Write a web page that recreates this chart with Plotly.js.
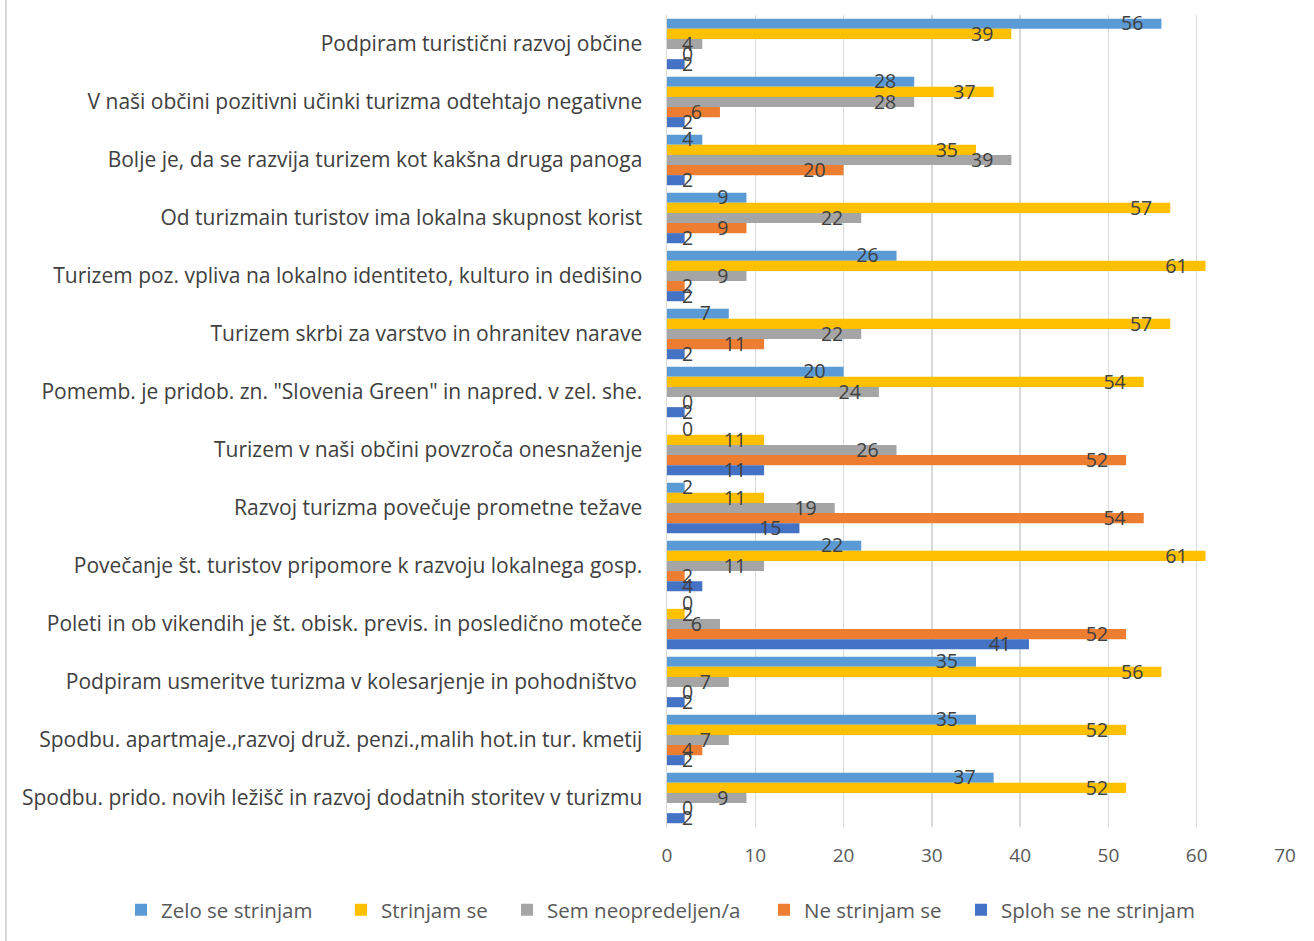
<!DOCTYPE html>
<html>
<head>
<meta charset="utf-8">
<script src="https://cdn.plot.ly/plotly-3.0.1.min.js"></script>
<style>html,body{margin:0;padding:0;background:#fff;}#chart{width:1314px;height:941px;}</style>
</head>
<body>
<div id="chart"></div>
<script>
const categories = [
  "Podpiram turistični razvoj občine",
  "V naši občini pozitivni učinki turizma odtehtajo negativne",
  "Bolje je, da se razvija turizem kot kakšna druga panoga",
  "Od turizmain turistov ima lokalna skupnost korist",
  "Turizem poz. vpliva na lokalno identiteto, kulturo in dedišino",
  "Turizem skrbi za varstvo in ohranitev narave",
  "Pomemb. je pridob. zn. \"Slovenia Green\" in napred. v zel. she.",
  "Turizem v naši občini povzroča onesnaženje",
  "Razvoj turizma povečuje prometne težave",
  "Povečanje št. turistov pripomore k razvoju lokalnega gosp.",
  "Poleti in ob vikendih je št. obisk. previs. in posledično moteče",
  "Podpiram usmeritve turizma v kolesarjenje in pohodništvo ",
  "Spodbu. apartmaje.,razvoj druž. penzi.,malih hot.in tur. kmetij",
  "Spodbu. prido. novih ležišč in razvoj dodatnih storitev v turizmu"
];
const seriesNames = ["Zelo se strinjam", "Strinjam se", "Sem neopredeljen/a", "Ne strinjam se", "Sploh se ne strinjam"];
const zeloSeStrinjam   = [56, 28, 4, 9, 26, 7, 20, 0, 2, 22, 0, 35, 35, 37];
const strinjamSe       = [39, 37, 35, 57, 61, 57, 54, 11, 11, 61, 2, 56, 52, 52];
const semNeopredeljen  = [4, 28, 39, 22, 9, 22, 24, 26, 19, 11, 6, 7, 7, 9];
const neStrinjamSe     = [0, 6, 20, 9, 2, 11, 0, 52, 54, 2, 52, 0, 4, 0];
const splohSeNeStrinjam= [2, 2, 2, 2, 2, 2, 2, 11, 15, 4, 41, 2, 2, 2];
const xTicks = [0, 10, 20, 30, 40, 50, 60, 70];

const colors = ["#5B9BD5", "#FFC000", "#A5A5A5", "#ED7D31", "#4472C4"];
const seriesValues = [zeloSeStrinjam, strinjamSe, semNeopredeljen, neStrinjamSe, splohSeNeStrinjam];
const FONT = "'Open Sans', sans-serif";

const BARGAP = 0.13;
const nSeries = seriesValues.length;
const barW = (1 - BARGAP) / nSeries;
const legendNames = ["legend", "legend2", "legend3", "legend4", "legend5"];

// bar traces (categorical y), each with its own one-item legend
const barTraces = seriesValues.map((vals, i) => ({
  type: "bar",
  orientation: "h",
  name: seriesNames[i],
  legend: legendNames[i],
  y: categories,
  x: vals,
  marker: {color: colors[i]},
  hoverinfo: "x+name"
}));

// data labels drawn on top via an overlaid numeric axis, Excel "inside end" style
const unitPx = 618 / 70;
const labelTraces = seriesValues.map((vals, i) => {
  const xs = vals.map(v => {
    const nd = String(v).length;
    const halfW = nd * 0.63;
    const c = v - 18 / unitPx - halfW;
    const minC = 15 / unitPx + halfW;
    return Math.max(c, minC);
  });
  const ys = vals.map((v, j) => j + (i - (nSeries - 1) / 2) * barW + 0.03);
  return {
    type: "scatter",
    mode: "text",
    x: xs,
    y: ys,
    yaxis: "y2",
    text: vals.map(String),
    textposition: "middle center",
    textfont: {family: FONT, size: 19.5, color: "#404040"},
    showlegend: false,
    hoverinfo: "skip",
    cliponaxis: false
  };
});

// legend text start positions (px) converted to paper x
const legendTextStartPx = [160, 380, 546, 803, 1000];
const legendFont = {family: FONT, size: 20.5, color: "#595959"};
const legends = {};
legendNames.forEach((ln, i) => {
  legends[ln] = {
    orientation: "h",
    x: (legendTextStartPx[i] - 39 - 667) / 618,
    xanchor: "left",
    y: -0.102,
    yanchor: "middle",
    font: legendFont,
    bgcolor: "rgba(0,0,0,0)"
  };
});

const layout = Object.assign({
  width: 1314,
  height: 941,
  paper_bgcolor: "#ffffff",
  plot_bgcolor: "#ffffff",
  margin: {l: 667, r: 29, t: 15, b: 114, autoexpand: false},
  barmode: "group",
  bargap: BARGAP,
  bargroupgap: 0,
  font: {family: FONT, color: "#404040"},
  xaxis: {
    range: [0, 70],
    tickvals: xTicks,
    ticktext: xTicks.map(String),
    showgrid: true,
    gridcolor: "#d9d9d9",
    gridwidth: 1.5,
    zeroline: false,
    showline: false,
    ticks: "",
    automargin: false,
    ticklabelstandoff: 15,
    tickfont: {family: FONT, size: 19, color: "#595959"},
    fixedrange: true
  },
  yaxis: {
    type: "category",
    autorange: "reversed",
    showgrid: false,
    zeroline: false,
    showline: true,
    linecolor: "#d9d9d9",
    linewidth: 1.5,
    ticks: "",
    automargin: false,
    ticklabelstandoff: 19,
    tickfont: {family: FONT, size: 21, color: "#404040"},
    fixedrange: true
  },
  yaxis2: {
    overlaying: "y",
    range: [categories.length - 0.5, -0.5],
    visible: false,
    fixedrange: true
  },
  shapes: [
    {type: "line", xref: "paper", yref: "paper", x0: -1.0696, x1: -1.0696, y0: -0.1404, y1: 1.0185,
     line: {color: "#d9d9d9", width: 2}}
  ],
  showlegend: true
}, legends);

Plotly.newPlot("chart", barTraces.concat(labelTraces), layout, {displayModeBar: false, staticPlot: true});
</script>
</body>
</html>
